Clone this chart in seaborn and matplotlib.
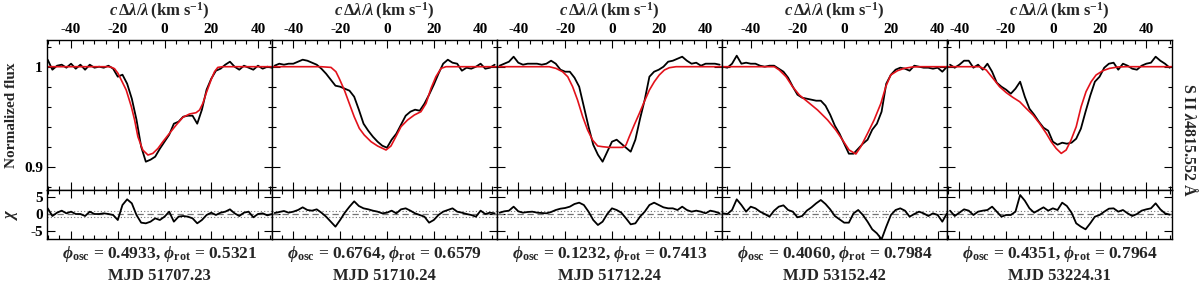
import matplotlib
matplotlib.use("Agg")
import matplotlib.pyplot as plt
import seaborn as sns
from matplotlib.ticker import MultipleLocator, FuncFormatter

# ---- observed spectra (velocity in km/s, normalized flux) and chi residuals ----
vel_1 = [-50, -48, -46, -44, -42, -40, -38, -36, -34, -32, -30, -28, -26, -24, -22, -20, -18,
         -16, -14, -12, -10, -8, -6, -4, -2, 0, 2, 4, 6, 8, 10, 12, 14, 16, 18, 20, 22, 24,
         26, 28, 30, 32, 34, 36, 38, 40, 42, 44, 46]
flux_1 = [1.007, 0.997, 1.001, 1.002, 0.999, 1.003, 0.998, 1.002, 0.997, 1.002, 0.999, 1.000,
          0.999, 1.001, 0.998, 0.990, 0.992, 0.983, 0.968, 0.947, 0.920, 0.905, 0.907, 0.910,
          0.918, 0.925, 0.932, 0.943, 0.945, 0.950, 0.951, 0.951, 0.943, 0.957, 0.977, 0.988,
          0.996, 0.998, 1.002, 1.005, 1.000, 0.997, 1.001, 0.999, 0.997, 1.001, 0.998, 1.000, 0.999]
chi_1 = [1.7, -0.6, 0.4, 1.0, 0.2, 0.7, 0.0, 0.0, -0.6, 0.7, 0.0, 0.0, 0.2, 0.0, -0.3, -1.8,
         2.7, 4.4, 3.2, -0.3, -2.6, -2.8, -2.3, -1.3, -1.8, -0.8, 0.7, -2.3, -0.8, -0.6, -0.8,
         -1.3, -2.8, -1.8, -0.3, 0.4, -0.3, 0.4, 0.7, 1.4, 0.2, -0.6, 0.4, 0.7, -1.0, 0.0, 0.2,
         -0.4, 0.0]

vel_2 = [-48, -46, -44, -42, -40, -38, -36, -34, -32, -30, -28, -26, -24, -22, -20, -18, -16,
         -14, -12, -10, -8, -6, -4, -2, 0, 2, 4, 6, 8, 10, 12, 14, 16, 18, 20, 22, 24, 26, 28,
         30, 32, 34, 36, 38, 40, 42, 44, 46]
flux_2 = [1.001, 1.003, 1.002, 1.003, 1.003, 1.005, 1.007, 1.006, 1.004, 1.002, 0.998, 0.993,
          0.987, 0.981, 0.980, 0.978, 0.976, 0.970, 0.957, 0.943, 0.936, 0.930, 0.925, 0.921,
          0.919, 0.927, 0.933, 0.942, 0.951, 0.955, 0.957, 0.956, 0.963, 0.972, 0.982, 0.993,
          1.003, 1.007, 1.004, 1.003, 0.996, 0.999, 0.998, 1.000, 1.003, 0.998, 0.999, 1.002]
chi_2 = [0.3, 0.6, 0.9, 0.4, 0.7, 1.2, 2.0, 1.2, 1.0, 1.4, 0.4, -0.8, -2.3, -3.8, -1.8, 0.4,
         2.2, 3.8, 2.4, 1.7, 1.4, 1.0, 0.7, 0.2, 0.4, 1.0, 0.2, 1.4, 1.7, 1.0, 0.2, -0.3, -0.8,
         -2.6, -1.8, -0.3, 0.7, 1.2, 1.7, 0.7, 0.4, 0.0, -0.3, -0.8, 1.0, 0.0, 0.4, 0.2]

vel_3 = vel_2
flux_3 = [1.001, 1.003, 1.005, 1.010, 1.004, 1.002, 1.003, 1.003, 1.003, 1.002, 1.003, 1.006,
          1.003, 0.997, 0.995, 0.995, 0.989, 0.980, 0.960, 0.940, 0.922, 0.912, 0.905, 0.915,
          0.925, 0.927, 0.923, 0.919, 0.915, 0.927, 0.948, 0.967, 0.990, 0.995, 0.997, 1.000,
          1.005, 1.006, 1.008, 1.010, 1.006, 1.003, 1.004, 1.001, 1.003, 1.003, 1.003, 1.002]
chi_3 = [0.4, 0.8, 1.0, 2.2, 0.8, 0.4, 0.6, 0.7, 0.4, 0.3, 0.2, 0.6, 1.2, 1.6, 1.8, 2.2, 3.0,
         3.4, 2.7, 0.7, -1.8, -3.3, -2.3, 0.0, 1.7, 1.2, 0.4, -1.3, -3.1, -2.8, -0.8, 0.7, 2.7,
         3.4, 2.7, 2.0, 1.7, 1.7, 1.2, 2.2, 1.2, 0.7, 1.0, 0.7, 0.2, 1.0, 0.7, 0.2]

vel_4 = [-52, -50, -48, -46, -44, -42, -40, -38, -36, -34, -32, -30, -28, -26, -24, -22, -20,
         -18, -16, -14, -12, -10, -8, -6, -4, -2, 0, 2, 4, 6, 8, 10, 12, 14, 16, 18, 20, 22, 24,
         26, 28, 30, 32, 34, 36, 38, 40, 42, 44]
flux_4 = [1.000, 0.999, 1.003, 1.011, 1.003, 1.004, 1.003, 1.003, 1.001, 1.000, 1.001, 1.001,
          0.998, 0.995, 0.989, 0.980, 0.972, 0.969, 0.968, 0.967, 0.966, 0.966, 0.961, 0.952,
          0.941, 0.933, 0.923, 0.913, 0.913, 0.918, 0.923, 0.927, 0.937, 0.943, 0.955, 0.983,
          0.992, 0.997, 0.999, 0.998, 0.996, 1.001, 1.000, 0.999, 0.999, 0.998, 0.999, 0.995, 1.000]
chi_4 = [0.2, 0.0, 1.2, 4.4, 2.7, 0.7, 2.2, 1.7, 0.7, 0.0, -0.8, 1.0, 2.2, 2.6, 1.2, 0.7, -1.0,
         -0.6, 1.0, 2.0, 3.2, 4.2, 3.0, 1.4, -0.6, -1.6, -2.6, -2.6, 0.2, 1.2, -0.3, -2.3, -4.6,
         -5.8, -7.6, -3.8, -0.3, 1.2, 1.7, 1.0, -0.8, 0.0, 0.7, 0.2, -0.6, 0.2, -0.3, -2.3, 0.2]

vel_5 = [-44, -42, -40, -38, -36, -34, -32, -30, -28, -26, -24, -22, -20, -18, -16, -14, -12,
         -10, -8, -6, -4, -2, 0, 2, 4, 6, 8, 10, 12, 14, 16, 18, 20, 22, 24, 26, 28, 30, 32, 34,
         36, 38, 40, 42, 44, 46, 48, 50]
flux_5 = [1.002, 0.999, 1.002, 1.006, 1.006, 0.999, 1.002, 0.997, 1.003, 0.995, 0.984, 0.980,
          0.977, 0.973, 0.978, 0.985, 0.970, 0.958, 0.952, 0.945, 0.939, 0.936, 0.925, 0.922,
          0.924, 0.923, 0.924, 0.928, 0.938, 0.955, 0.971, 0.985, 0.990, 0.999, 1.003, 1.004,
          0.997, 1.003, 1.001, 0.998, 0.997, 1.001, 1.003, 1.004, 1.010, 1.006, 1.003, 0.999]
chi_5 = [1.0, -0.6, 0.4, 1.4, 1.0, -0.3, 0.7, 1.0, 1.2, 2.2, 0.7, -0.8, -0.3, -0.3, 0.7, 5.7,
         4.0, 1.7, 0.4, 1.2, 2.0, 1.0, 1.7, 1.2, 3.4, 2.4, 0.4, -2.8, -3.8, -4.6, -2.8, -0.8,
         -0.3, 0.7, 1.6, 1.7, 0.7, 1.2, 0.2, -0.6, 0.0, 1.0, 1.4, 1.7, 3.2, 1.4, 0.2, -0.2]

# ---- model profiles (red) ----
mvel_1 = [-50.3, -24.2, -22.8, -21.4, -19.9, -16.4, -14.2, -12.8, -11.4, -9.3, -7.1, -5.0, -2.8,
          -0.7, 2.1, 5.0, 7.8, 10.7, 13.5, 15.0, 16.4, 17.8, 19.9, 21.4, 22.8, 24.9, 46]
model_1 = [1.0, 1.0, 0.9995, 0.998, 0.9933, 0.9767, 0.960, 0.9467, 0.930, 0.9167, 0.9117,
           0.9133, 0.9183, 0.925, 0.9333, 0.9417, 0.9493, 0.9527, 0.954, 0.9567, 0.9633,
           0.9733, 0.9867, 0.995, 0.9993, 1.0, 1.0]
mvel_2 = [-49.1, -28.2, -23.9, -21.8, -20.4, -18.2, -16.1, -14.0, -11.8, -9.7, -6.8, -4.0, -0.4,
          1.7, 3.8, 6.0, 8.8, 11.7, 14.5, 16.7, 18.8, 20.9, 23.1, 25.2, 47]
model_2 = [1.0, 1.0, 0.9993, 0.995, 0.9883, 0.9767, 0.9633, 0.950, 0.9383, 0.9317, 0.925,
           0.9207, 0.9167, 0.9207, 0.930, 0.940, 0.9467, 0.9517, 0.955, 0.9633, 0.9783, 0.990,
           0.9983, 1.0, 1.0]
mvel_3 = [-49.1, -26.8, -23.9, -21.1, -18.9, -16.8, -14.7, -12.5, -10.4, -8.3, -6.1, -4.0, -1.1,
          1.7, 4.6, 6.0, 7.4, 9.5, 11.7, 13.8, 16.0, 18.1, 20.2, 22.4, 24.5, 27.4, 47]
model_3 = [1.0, 1.0, 0.9983, 0.995, 0.990, 0.980, 0.9667, 0.950, 0.9367, 0.9267, 0.9207, 0.920,
           0.9193, 0.9193, 0.9193, 0.9217, 0.930, 0.9417, 0.9533, 0.965, 0.9767, 0.985, 0.9917,
           0.9967, 0.999, 1.0, 1.0]
mvel_4 = [-52.3, -29.9, -27.8, -24.9, -22.1, -19.2, -15.7, -11.4, -7.1, -3.6, -0.7, 2.1, 5.0,
          7.1, 10.0, 12.8, 15.7, 17.8, 19.9, 22.8, 25.6, 29.2, 32.8, 44]
model_4 = [1.0, 1.0, 0.9967, 0.990, 0.980, 0.9717, 0.965, 0.9567, 0.9467, 0.9367, 0.9267,
           0.9167, 0.9127, 0.920, 0.9333, 0.9467, 0.9633, 0.980, 0.9917, 0.996, 0.9983, 0.9997,
           1.0, 1.0]
mvel_5 = [-45.3, -31.3, -28.5, -25.6, -22.8, -19.9, -17.1, -14.2, -11.4, -8.5, -5.7, -2.8, -0.7,
          1.4, 3.6, 5.7, 7.8, 10.0, 12.1, 14.2, 16.4, 18.5, 21.4, 24.2, 27.8, 31.3, 51]
model_5 = [1.0, 1.0, 0.9967, 0.9883, 0.980, 0.974, 0.9693, 0.965, 0.9583, 0.9517, 0.9433,
           0.9333, 0.925, 0.9183, 0.9133, 0.9167, 0.9267, 0.940, 0.960, 0.975, 0.985, 0.9917,
           0.996, 0.9983, 0.9997, 1.0, 1.0]

# panel velocity ranges and labels
xlims = [(-50.3, 46.0), (-49.1, 47.0), (-49.1, 47.0), (-52.3, 44.0), (-45.3, 51.0)]
phi_osc = ['0.4933', '0.6764', '0.1232', '0.4060', '0.4351']
phi_rot = ['0.5321', '0.6579', '0.7413', '0.7984', '0.7964']
mjd = ['51707.23', '51710.24', '51712.24', '53152.42', '53224.31']

vels = [vel_1, vel_2, vel_3, vel_4, vel_5]
fluxes = [flux_1, flux_2, flux_3, flux_4, flux_5]
chis = [chi_1, chi_2, chi_3, chi_4, chi_5]
mvels = [mvel_1, mvel_2, mvel_3, mvel_4, mvel_5]
models = [model_1, model_2, model_3, model_4, model_5]

sns.set_style("ticks")
plt.rcParams['font.family'] = ['Liberation Serif', 'DejaVu Serif']
plt.rcParams['font.weight'] = 'bold'
plt.rcParams['axes.unicode_minus'] = False
plt.rcParams['mathtext.fontset'] = 'custom'
plt.rcParams['mathtext.rm'] = 'Liberation Serif:bold'
plt.rcParams['mathtext.it'] = 'Liberation Serif:italic:bold'
plt.rcParams['mathtext.bf'] = 'Liberation Serif:bold'

W, H = 1200, 287
fig = plt.figure(figsize=(W / 100, H / 100), dpi=100)

def style_axis(ax):
    for s in ax.spines.values():
        s.set_linewidth(1.0)
        s.set_color('k')
    ax.tick_params(which='both', direction='in', top=True, right=True, bottom=True, left=True,
                   colors='k', width=0.8, labelsize=11, pad=3)
    ax.tick_params(which='major', length=5.5)
    ax.tick_params(which='minor', length=3.2)
    ax.xaxis.set_major_locator(MultipleLocator(20))
    ax.xaxis.set_minor_locator(MultipleLocator(5))
    ax.set_xlabel('')
    ax.set_ylabel('')

fmt = FuncFormatter(lambda v, p: '%g' % round(v, 3))

for i in range(5):
    left = (47 + 225 * i) / W
    width = 225 / W
    ax = fig.add_axes([left, 1 - 190 / H, width, 150 / H])
    rax = fig.add_axes([left, 1 - 239 / H, width, 49 / H])

    sns.lineplot(x=vels[i], y=fluxes[i], ax=ax, color='k', lw=1.3, sort=False, estimator=None)
    sns.lineplot(x=mvels[i], y=models[i], ax=ax, color='#e3121b', lw=1.2, sort=False, estimator=None)
    ax.set_xlim(*xlims[i])
    ax.set_ylim(0.8767, 1.0267)
    style_axis(ax)
    ax.yaxis.set_major_locator(MultipleLocator(0.1))
    ax.yaxis.set_minor_locator(MultipleLocator(0.02))
    ax.yaxis.set_major_formatter(fmt)
    ax.xaxis.set_major_formatter(fmt)
    ax.tick_params(labelbottom=False, labeltop=True, labelleft=(i == 0), labelright=False)

    rax.axhline(0, color='0.45', ls=(0, (5, 3)), lw=0.9)
    rax.axhline(1, color='0.45', ls=(0, (1, 2)), lw=0.8)
    rax.axhline(-1, color='0.45', ls=(0, (1, 2)), lw=0.8)
    sns.lineplot(x=vels[i], y=chis[i], ax=rax, color='k', lw=1.3, sort=False, estimator=None)
    rax.set_xlim(*xlims[i])
    rax.set_ylim(-7.5, 7.2)
    style_axis(rax)
    rax.yaxis.set_major_locator(MultipleLocator(5))
    rax.yaxis.set_minor_locator(MultipleLocator(5))
    rax.yaxis.set_major_formatter(fmt)
    rax.tick_params(labelbottom=False, labeltop=False, labelleft=(i == 0), labelright=False)

    cx = (47 + 225 * i + 112.5) / W
    fig.text(cx, 1 - 11 / H, r'$c\,\Delta\lambda/\lambda\,$(km s$^{-1}$)', ha='center', va='center',
             fontsize=12, fontweight='bold')
    fig.text(cx, 1 - 254 / H, r'$\phi_{\rm osc}$ = %s, $\phi_{\rm rot}$ = %s' % (phi_osc[i], phi_rot[i]),
             ha='center', va='center', fontsize=12.5, fontweight='bold')
    fig.text(cx, 1 - 276 / H, 'MJD %s' % mjd[i], ha='center', va='center', fontsize=12,
             fontweight='bold')

fig.text(12 / W, 1 - 115 / H, 'Normalized flux', rotation=90, ha='center', va='center',
         fontsize=11, fontweight='bold')
fig.text(12 / W, 1 - 214 / H, r'$\chi$', rotation=90, ha='center', va='center',
         fontsize=12, fontweight='bold')
fig.text(1189 / W, 1 - 140 / H, r'S II $\lambda$4815.552 Å', rotation=270, ha='center', va='center',
         fontsize=11.5, fontweight='bold')

fig.savefig('out.png', dpi=100, facecolor='white')
